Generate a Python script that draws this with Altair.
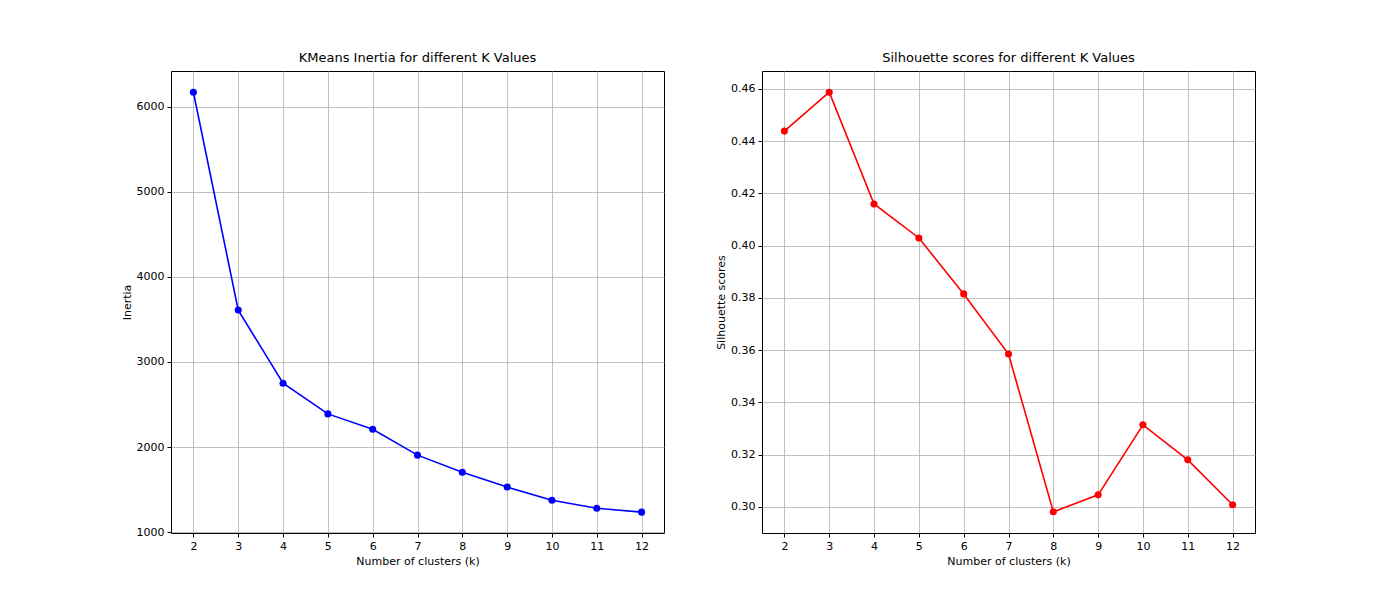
import altair as alt
import pandas as pd

k_values = list(range(2, 13))
inertia = [6170, 3610, 2750, 2390, 2210, 1905, 1705, 1530, 1375, 1280, 1235]
silhouette = [0.4438, 0.4587, 0.4159, 0.4029, 0.3815, 0.3585, 0.2981, 0.3046, 0.3314, 0.3180, 0.3008]

df = pd.DataFrame({"k": k_values, "inertia": inertia, "silhouette": silhouette})

FONT = "DejaVu Sans"


def panel(field, ytitle, title, color, ydomain, ystep, fmt):
    x = alt.X("k:Q", title="Number of clusters (k)",
              scale=alt.Scale(domain=[1.5, 12.5], nice=False, zero=False),
              axis=alt.Axis(values=k_values, format="d"))
    y = alt.Y(f"{field}:Q", title=ytitle,
              scale=alt.Scale(domain=ydomain, nice=False, zero=False),
              axis=alt.Axis(tickMinStep=ystep, format=fmt))
    base = alt.Chart(df).encode(x=x, y=y)
    return (base.mark_line(color=color, strokeWidth=1.6)
            + base.mark_point(color=color, filled=True, size=50, opacity=1)).properties(
        width=493, height=462, title=title)


left = panel("inertia", "Inertia", "KMeans Inertia for different K Values",
             "blue", [990, 6420], 1000, "d")
right = panel("silhouette", "Silhouette scores", "Silhouette scores for different K Values",
              "red", [0.290, 0.4668], 0.02, ".2f")

chart = alt.hconcat(left, right, spacing=50).properties(
    padding={"left": 112, "top": 43, "right": 10, "bottom": 10}
).configure_view(stroke="black", strokeWidth=1).configure_axis(
    grid=True, gridColor="#b0b0b0", gridWidth=0.8, domain=False,
    tickColor="black", tickSize=4, labelFont=FONT, titleFont=FONT,
    labelFontSize=11, titleFontSize=11, labelColor="black", titleColor="black",
    titleFontWeight="normal", labelPadding=3,
).configure_title(font=FONT, fontSize=13, fontWeight="normal", offset=6)

chart.save("out.html", embed_options={"renderer": "svg", "actions": False})
